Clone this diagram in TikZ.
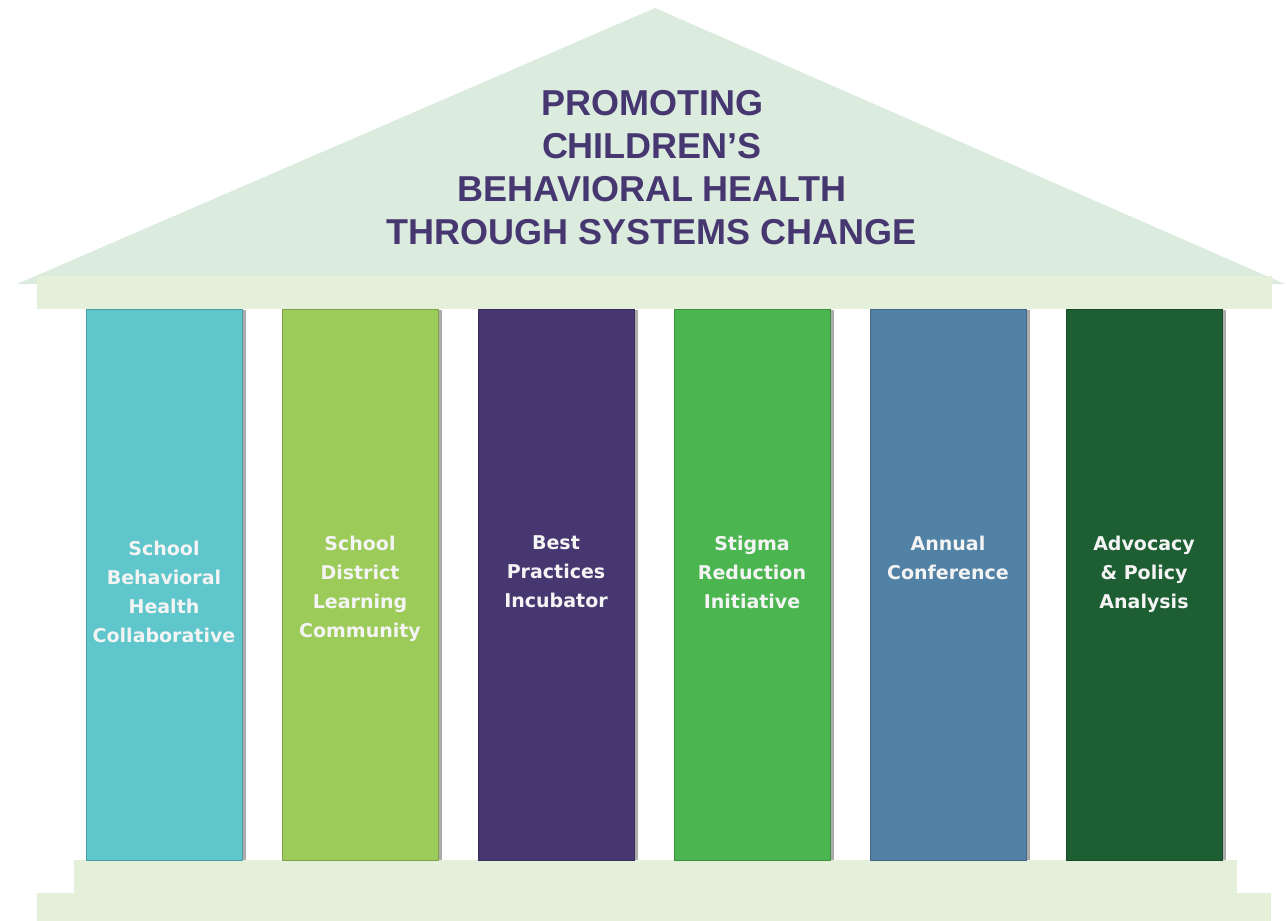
\documentclass[tikz,border=0pt]{standalone}
\usepackage{fontspec}
\newfontfamily\titlefont{Liberation Sans}
\newfontfamily\colfont{DejaVu Sans}
\definecolor{roofc}{HTML}{DBECDF}
\definecolor{bandc}{HTML}{E5F0DA}
\definecolor{titlec}{HTML}{473770}
\definecolor{cA}{HTML}{5FC6CB}
\definecolor{cB}{HTML}{9CCB5A}
\definecolor{cC}{HTML}{473770}
\definecolor{cD}{HTML}{4BB550}
\definecolor{cE}{HTML}{5181A5}
\definecolor{cF}{HTML}{1D5E33}
\definecolor{txtc}{HTML}{F4F4F4}
\tikzset{
  pillar/.style={rectangle, inner sep=0pt, minimum width=156pt, minimum height=551pt, draw=#1!80!black, line width=0.8pt, fill=#1},
  pshadow/.style={fill=gray!65},
  ptext/.style={anchor=north, inner sep=0pt, align=center, text=txtc, font=\colfont\bfseries\fontsize{19}{29}\selectfont},
  titletext/.style={anchor=north, inner sep=0pt, align=center, text=titlec, font=\titlefont\bfseries\fontsize{36}{43}\selectfont}
}
\begin{document}
\begin{tikzpicture}[x=1pt,y=-1pt]
\useasboundingbox (0,0) rectangle (1286,921);
% roof
\fill[roofc] (17,284) -- (655,8) -- (1285,284) -- cycle;
\fill[bandc] (37,276) rectangle (1272,309);
% base
\fill[bandc] (74,860) rectangle (1237,893);
\fill[bandc] (37,893) rectangle (1271,921);
% shadows
\foreach \i in {0,...,5}{
  \fill[pshadow] (86+196*\i+156,310) rectangle (86+196*\i+160,860);
}
% pillars
\node[pillar=cA] (p1) at (164,584.5) {};
\node[pillar=cB] (p2) at (360,584.5) {};
\node[pillar=cC] (p3) at (556,584.5) {};
\node[pillar=cD] (p4) at (752,584.5) {};
\node[pillar=cE] (p5) at (948,584.5) {};
\node[pillar=cF] (p6) at (1144,584.5) {};
% texts
\node[ptext] (t1) at (164,540.5) {School\\Behavioral\\Health\\Collaborative};
\node[ptext] (t2) at (360,535.5) {School\\District\\Learning\\Community};
\node[ptext] (t3) at (556,535.5) {Best\\Practices\\Incubator};
\node[ptext] (t4) at (752,535.5) {Stigma\\Reduction\\Initiative};
\node[ptext] (t5) at (948,535.5) {Annual\\Conference};
\node[ptext] (t6) at (1144,535.5) {Advocacy\\\&~Policy\\Analysis};
% title
\node[titletext] (title) at (652,90) {PROMOTING\\CHILDREN’S\\BEHAVIORAL HEALTH\\THROUGH SYSTEMS CHANGE};
\end{tikzpicture}
\end{document}
